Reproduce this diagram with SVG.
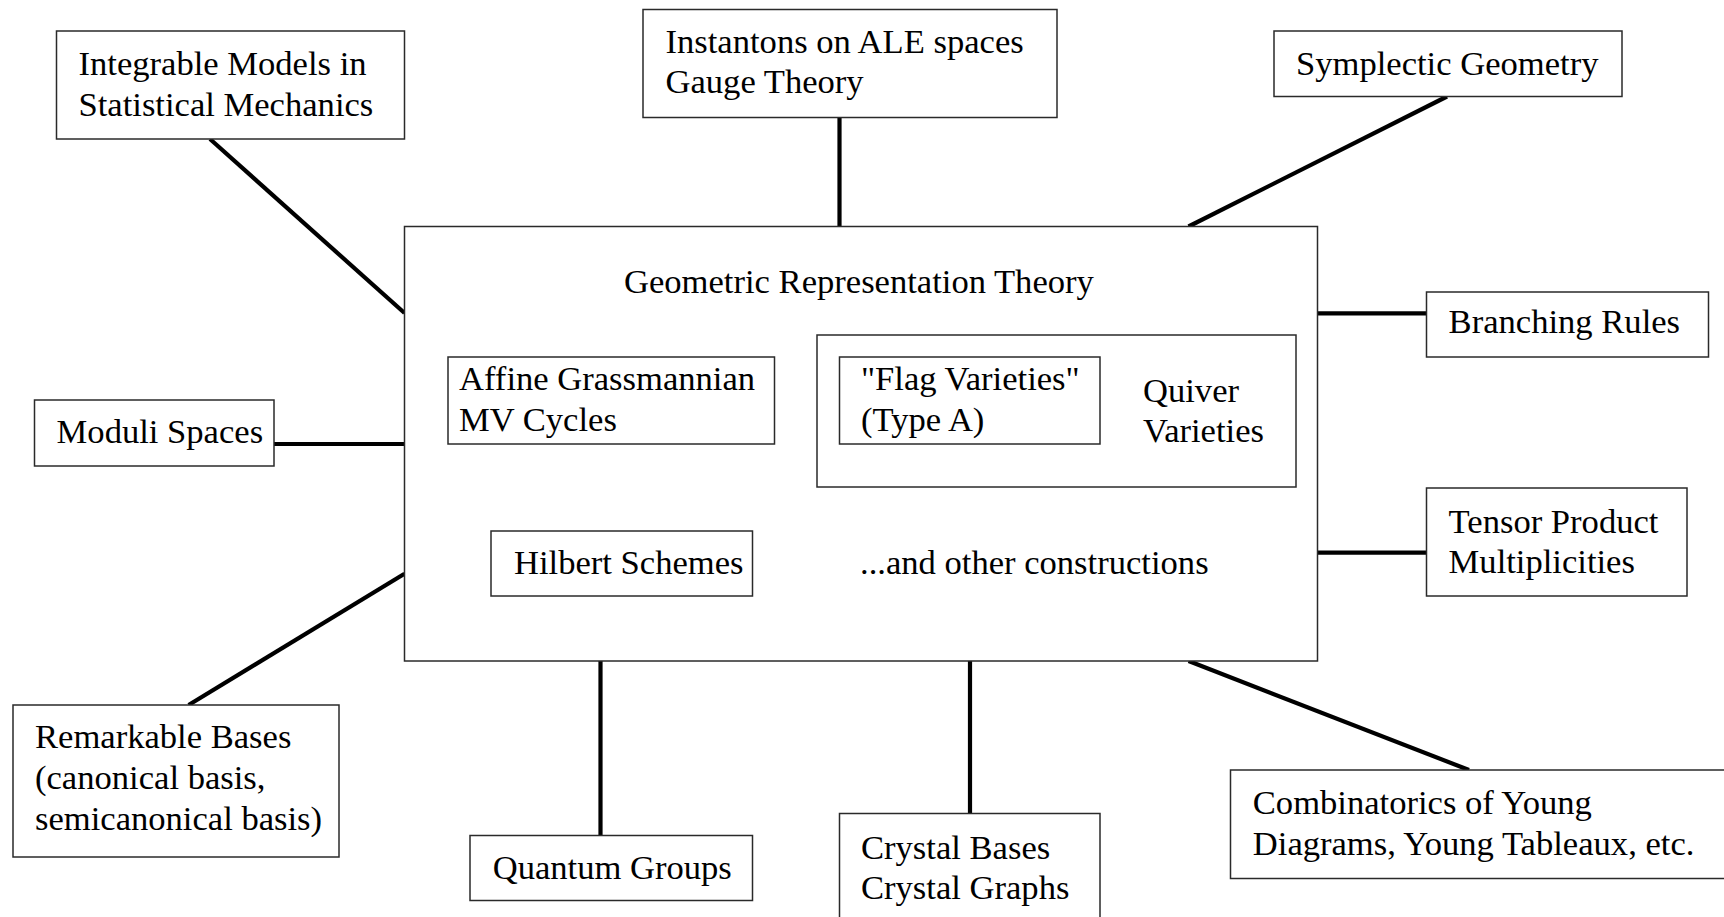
<svg xmlns="http://www.w3.org/2000/svg" width="1724" height="917" viewBox="0 0 1724 917">
<style>
  .box { fill: #fff; stroke: #2a2a2a; stroke-width: 1.5; }
  .inner { fill: none; stroke: #2a2a2a; stroke-width: 1.5; }
  .conn { stroke: #000; stroke-width: 4.2; fill: none; }
  text { font-family: "Liberation Serif", "Times New Roman", serif; font-size: 34.6px; fill: #000; }
</style>
<rect x="0" y="0" width="1724" height="917" fill="#fff"/>
<g id="connectors">
  <line class="conn" x1="210" y1="139" x2="404.5" y2="313"/>
  <line class="conn" x1="839.5" y1="117.5" x2="839.5" y2="226.5"/>
  <line class="conn" x1="1447" y1="96.5" x2="1188.5" y2="226.5"/>
  <line class="conn" x1="274" y1="444" x2="404.5" y2="444"/>
  <line class="conn" x1="1317.5" y1="313.3" x2="1426.5" y2="313.3"/>
  <line class="conn" x1="1317.5" y1="552.7" x2="1426.5" y2="552.7"/>
  <line class="conn" x1="404.5" y1="573.7" x2="188.6" y2="705"/>
  <line class="conn" x1="600.5" y1="661" x2="600.5" y2="835.5"/>
  <line class="conn" x1="970" y1="661" x2="970" y2="813.5"/>
  <line class="conn" x1="1188.6" y1="661" x2="1469" y2="770"/>
</g>
<g id="main">
  <rect class="box" x="404.5" y="226.5" width="913" height="434.5"/>
  <text x="624" y="292.7">Geometric Representation Theory</text>
</g>
<g id="affine">
  <rect class="inner" x="448" y="357" width="326.5" height="87"/>
  <text x="459" y="390">Affine Grassmannian</text>
  <text x="459" y="430.5">MV Cycles</text>
</g>
<g id="quiver">
  <rect class="inner" x="817" y="335" width="479" height="152"/>
  <text x="1143" y="402">Quiver</text>
  <text x="1143" y="442">Varieties</text>
</g>
<g id="flag">
  <rect class="inner" x="839.5" y="357" width="260.5" height="87"/>
  <text x="861" y="390">"Flag Varieties"</text>
  <text x="861" y="430.5">(Type A)</text>
</g>
<g id="hilbert">
  <rect class="inner" x="491" y="531" width="261.5" height="65"/>
  <text x="514" y="573.7">Hilbert Schemes</text>
</g>
<g id="other">
  <text x="860" y="574">...and other constructions</text>
</g>
<g id="integrable">
  <rect class="box" x="56.5" y="31" width="348" height="108"/>
  <text x="78.5" y="75">Integrable Models in</text>
  <text x="78.5" y="115.5">Statistical Mechanics</text>
</g>
<g id="instantons">
  <rect class="box" x="643" y="9.5" width="414" height="108"/>
  <text x="665.5" y="52.7">Instantons on ALE spaces</text>
  <text x="665.5" y="92.7">Gauge Theory</text>
</g>
<g id="symplectic">
  <rect class="box" x="1274" y="31" width="348" height="65.5"/>
  <text x="1296" y="75">Symplectic Geometry</text>
</g>
<g id="moduli">
  <rect class="box" x="34.5" y="400" width="239.5" height="66"/>
  <text x="56.6" y="443.3">Moduli Spaces</text>
</g>
<g id="branching">
  <rect class="box" x="1426.5" y="292" width="282" height="65"/>
  <text x="1448.6" y="333.4">Branching Rules</text>
</g>
<g id="tensor">
  <rect class="box" x="1426.5" y="488" width="260.5" height="108"/>
  <text x="1448.6" y="532.5">Tensor Product</text>
  <text x="1448.6" y="572.5">Multiplicities</text>
</g>
<g id="remarkable">
  <rect class="box" x="13" y="705" width="326" height="152"/>
  <text x="35" y="748">Remarkable Bases</text>
  <text x="35" y="789">(canonical basis,</text>
  <text x="35" y="829.5">semicanonical basis)</text>
</g>
<g id="quantum">
  <rect class="box" x="470" y="835.5" width="282.5" height="65"/>
  <text x="492.7" y="879">Quantum Groups</text>
</g>
<g id="crystal">
  <rect class="box" x="839.5" y="813.5" width="260.5" height="120"/>
  <text x="861" y="859">Crystal Bases</text>
  <text x="861" y="899">Crystal Graphs</text>
</g>
<g id="combinatorics">
  <rect class="box" x="1230.5" y="770" width="520" height="108.5"/>
  <text x="1252.8" y="813.5">Combinatorics of Young</text>
  <text x="1252.8" y="854.5">Diagrams, Young Tableaux, etc.</text>
</g>
</svg>
